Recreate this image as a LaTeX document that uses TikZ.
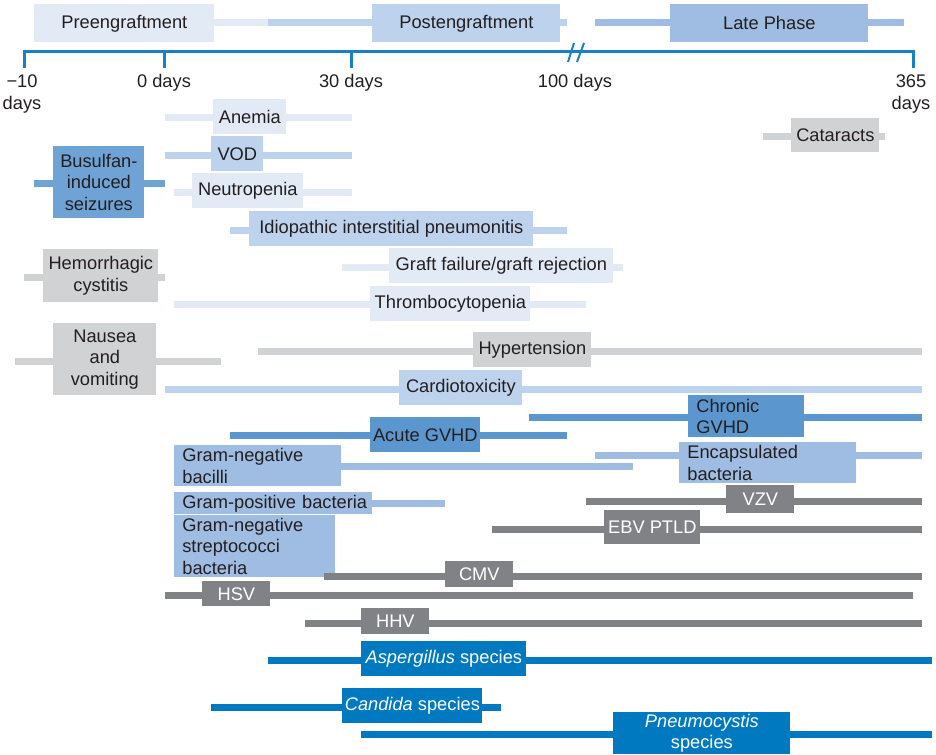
\documentclass[tikz,border=0pt]{standalone}
\usepackage{fontspec}
\setmainfont{Liberation Sans}
\definecolor{Ink}{HTML}{231F20}
\definecolor{PaleBlue}{HTML}{E2EAF6}
\definecolor{LightBlue}{HTML}{BDD2EC}
\definecolor{MidBlue}{HTML}{9FBDE2}
\definecolor{SeizureBlue}{HTML}{6FA3D5}
\definecolor{GvhdBlue}{HTML}{5B96CF}
\definecolor{DeepBlue}{HTML}{0079C1}
\definecolor{AxisBlue}{HTML}{1A80C4}
\definecolor{LightGray}{HTML}{D1D2D4}
\definecolor{DarkGray}{HTML}{808285}
\newdimen\pxu \pxu=0.02cm
\tikzset{
 box/.style={anchor=north west, inner sep=0pt, align=center, text=Ink, font=\fontsize{10.4}{12.1}\selectfont},
 wh/.style 2 args={minimum width=#1\pxu, minimum height=#2\pxu},
 leftbox/.style={align=left, inner xsep=8\pxu},
 palebox/.style={box, fill=PaleBlue},
 lightbox/.style={box, fill=LightBlue},
 midbox/.style={box, fill=MidBlue},
 seizbox/.style={box, fill=SeizureBlue},
 gvhdbox/.style={box, fill=GvhdBlue},
 lgraybox/.style={box, fill=LightGray},
 dgraybox/.style={box, fill=DarkGray, text=white},
 deepbox/.style={box, fill=DeepBlue, text=white},
 bar/.style={line width=7\pxu},
 axis/.style={draw=AxisBlue, line width=3\pxu},
 daylbl/.style={align=center, text=Ink, inner sep=0pt, font=\fontsize{10.4}{12.1}\selectfont}
}
\begin{document}
\begin{tikzpicture}[x=0.02cm, y=-0.02cm]
\useasboundingbox (0,0) rectangle (936,754);
% phases
\draw[bar, PaleBlue] (214,22) -- (268,22);
\draw[bar, LightBlue] (268,22) -- (372,22);
\draw[bar, LightBlue] (560,22) -- (567,22);
\draw[bar, MidBlue] (595,22) -- (904,22);
\node[palebox, wh={180}{38}] (pre) at (34,4) {Preengraftment};
\node[lightbox, wh={188}{38}] (post) at (372,4) {Postengraftment};
\node[midbox, wh={198}{38}] (late) at (670,4) {Late Phase};
% time axis
\draw[axis] (24,68) -- (24,51) -- (913,51) -- (913,68);
\draw[axis] (164,51) -- (164,68);
\draw[axis] (351,51) -- (351,68);
\draw[axis, line width=2\pxu] (568,62) -- (574,43) (577,62) -- (584,43);
\node[daylbl] (dm10) at (22,94) {−10\\days};
\node[daylbl] (d0) at (164,83) {0 days};
\node[daylbl] (d30) at (351,83) {30 days};
\node[daylbl] (d100) at (575,83) {100 days};
\node[daylbl] (d365) at (911,94) {365\\days};
% complications
\draw[bar, PaleBlue] (165,117) -- (352,117);
\node[palebox, wh={73}{35}] (anemia) at (213,99) {Anemia};
\draw[bar, LightBlue] (165,155) -- (352,155);
\node[lightbox, wh={52}{35}] (vod) at (211,136) {VOD};
\draw[bar, SeizureBlue] (34,183) -- (165,183);
\node[seizbox, wh={91}{72}] (busulfan) at (53,146) {Busulfan-\\induced\\seizures};
\draw[bar, PaleBlue] (174,192) -- (352,192);
\node[palebox, wh={111}{35}] (neutro) at (192,173) {Neutropenia};
\draw[bar, LightBlue] (230,230) -- (567,230);
\node[lightbox, wh={284}{35}] (idio) at (249,211) {Idiopathic interstitial pneumonitis};
\draw[bar, LightGray] (24,277) -- (165,277);
\node[lgraybox, wh={115}{53}] (hemo) at (43,249) {Hemorrhagic\\cystitis};
\draw[bar, PaleBlue] (342,267) -- (623,267);
\node[palebox, wh={224}{35}] (graft) at (389,248) {Graft failure/graft rejection};
\draw[bar, PaleBlue] (174,304) -- (586,304);
\node[palebox, wh={160}{35}] (thrombo) at (370,286) {Thrombocytopenia};
\draw[bar, LightGray] (763,136) -- (885,136);
\node[lgraybox, wh={88}{34}] (cataracts) at (791,118) {Cataracts};
\draw[bar, LightGray] (15,361) -- (221,361);
\node[lgraybox, wh={103}{72}] (nausea) at (53,323) {Nausea\\and\\vomiting};
\draw[bar, LightGray] (258,351) -- (922,351);
\node[lgraybox, wh={118}{35}] (hyper) at (473,332) {Hypertension};
\draw[bar, LightBlue] (165,389) -- (922,389);
\node[lightbox, wh={123}{35}] (cardio) at (399,370) {Cardiotoxicity};
\draw[bar, GvhdBlue] (529,417) -- (922,417);
\node[gvhdbox, leftbox, wh={116}{42}, text width=100\pxu] (chronic) at (688,395) {Chronic\\GVHD};
\draw[bar, GvhdBlue] (230,435) -- (567,435);
\node[gvhdbox, wh={110}{35}] (acute) at (370,417) {Acute GVHD};
% infections
\draw[bar, MidBlue] (341,466) -- (633,466);
\node[midbox, leftbox, wh={167}{41}, text width=151\pxu] (gnbac) at (174,445) {Gram-negative\\bacilli};
\draw[bar, MidBlue] (595,455) -- (922,455);
\node[midbox, leftbox, wh={177}{41}, text width=161\pxu] (encap) at (679,442) {Encapsulated\\bacteria};
\draw[bar, MidBlue] (372,503) -- (445,503);
\node[midbox, leftbox, wh={198}{22}, text width=182\pxu] (gpos) at (174,492) {\mbox{Gram-positive bacteria}};
\draw[bar, DarkGray] (586,501) -- (922,501);
\node[dgraybox, wh={68}{28}] (vzv) at (726,485) {VZV};
\draw[bar, DarkGray] (492,529) -- (922,529);
\node[dgraybox, wh={96}{34}] (ebv) at (604,510) {EBV PTLD};
\node[midbox, leftbox, wh={161}{62}, text width=145\pxu] (gnstrep) at (174,515) {Gram-negative\\streptococci\\bacteria};
\draw[bar, DarkGray] (324,576) -- (922,576);
\node[dgraybox, wh={68}{26}] (cmv) at (445,561) {CMV};
\draw[bar, DarkGray] (165,595) -- (913,595);
\node[dgraybox, wh={68}{25}] (hsv) at (202,581) {HSV};
\draw[bar, DarkGray] (305,623) -- (922,623);
\node[dgraybox, wh={68}{26}] (hhv) at (361,608) {HHV};
\draw[bar, DeepBlue] (268,660) -- (932,660);
\node[deepbox, wh={165}{35}] (asp) at (361,641) {\textit{Aspergillus} species};
\draw[bar, DeepBlue] (211,707) -- (501,707);
\node[deepbox, wh={140}{35}] (cand) at (342,688) {\textit{Candida} species};
\draw[bar, DeepBlue] (361,734) -- (932,734);
\node[deepbox, wh={177}{42}] (pneumo) at (613,712) {\textit{Pneumocystis}\\species};
\end{tikzpicture}
\end{document}
